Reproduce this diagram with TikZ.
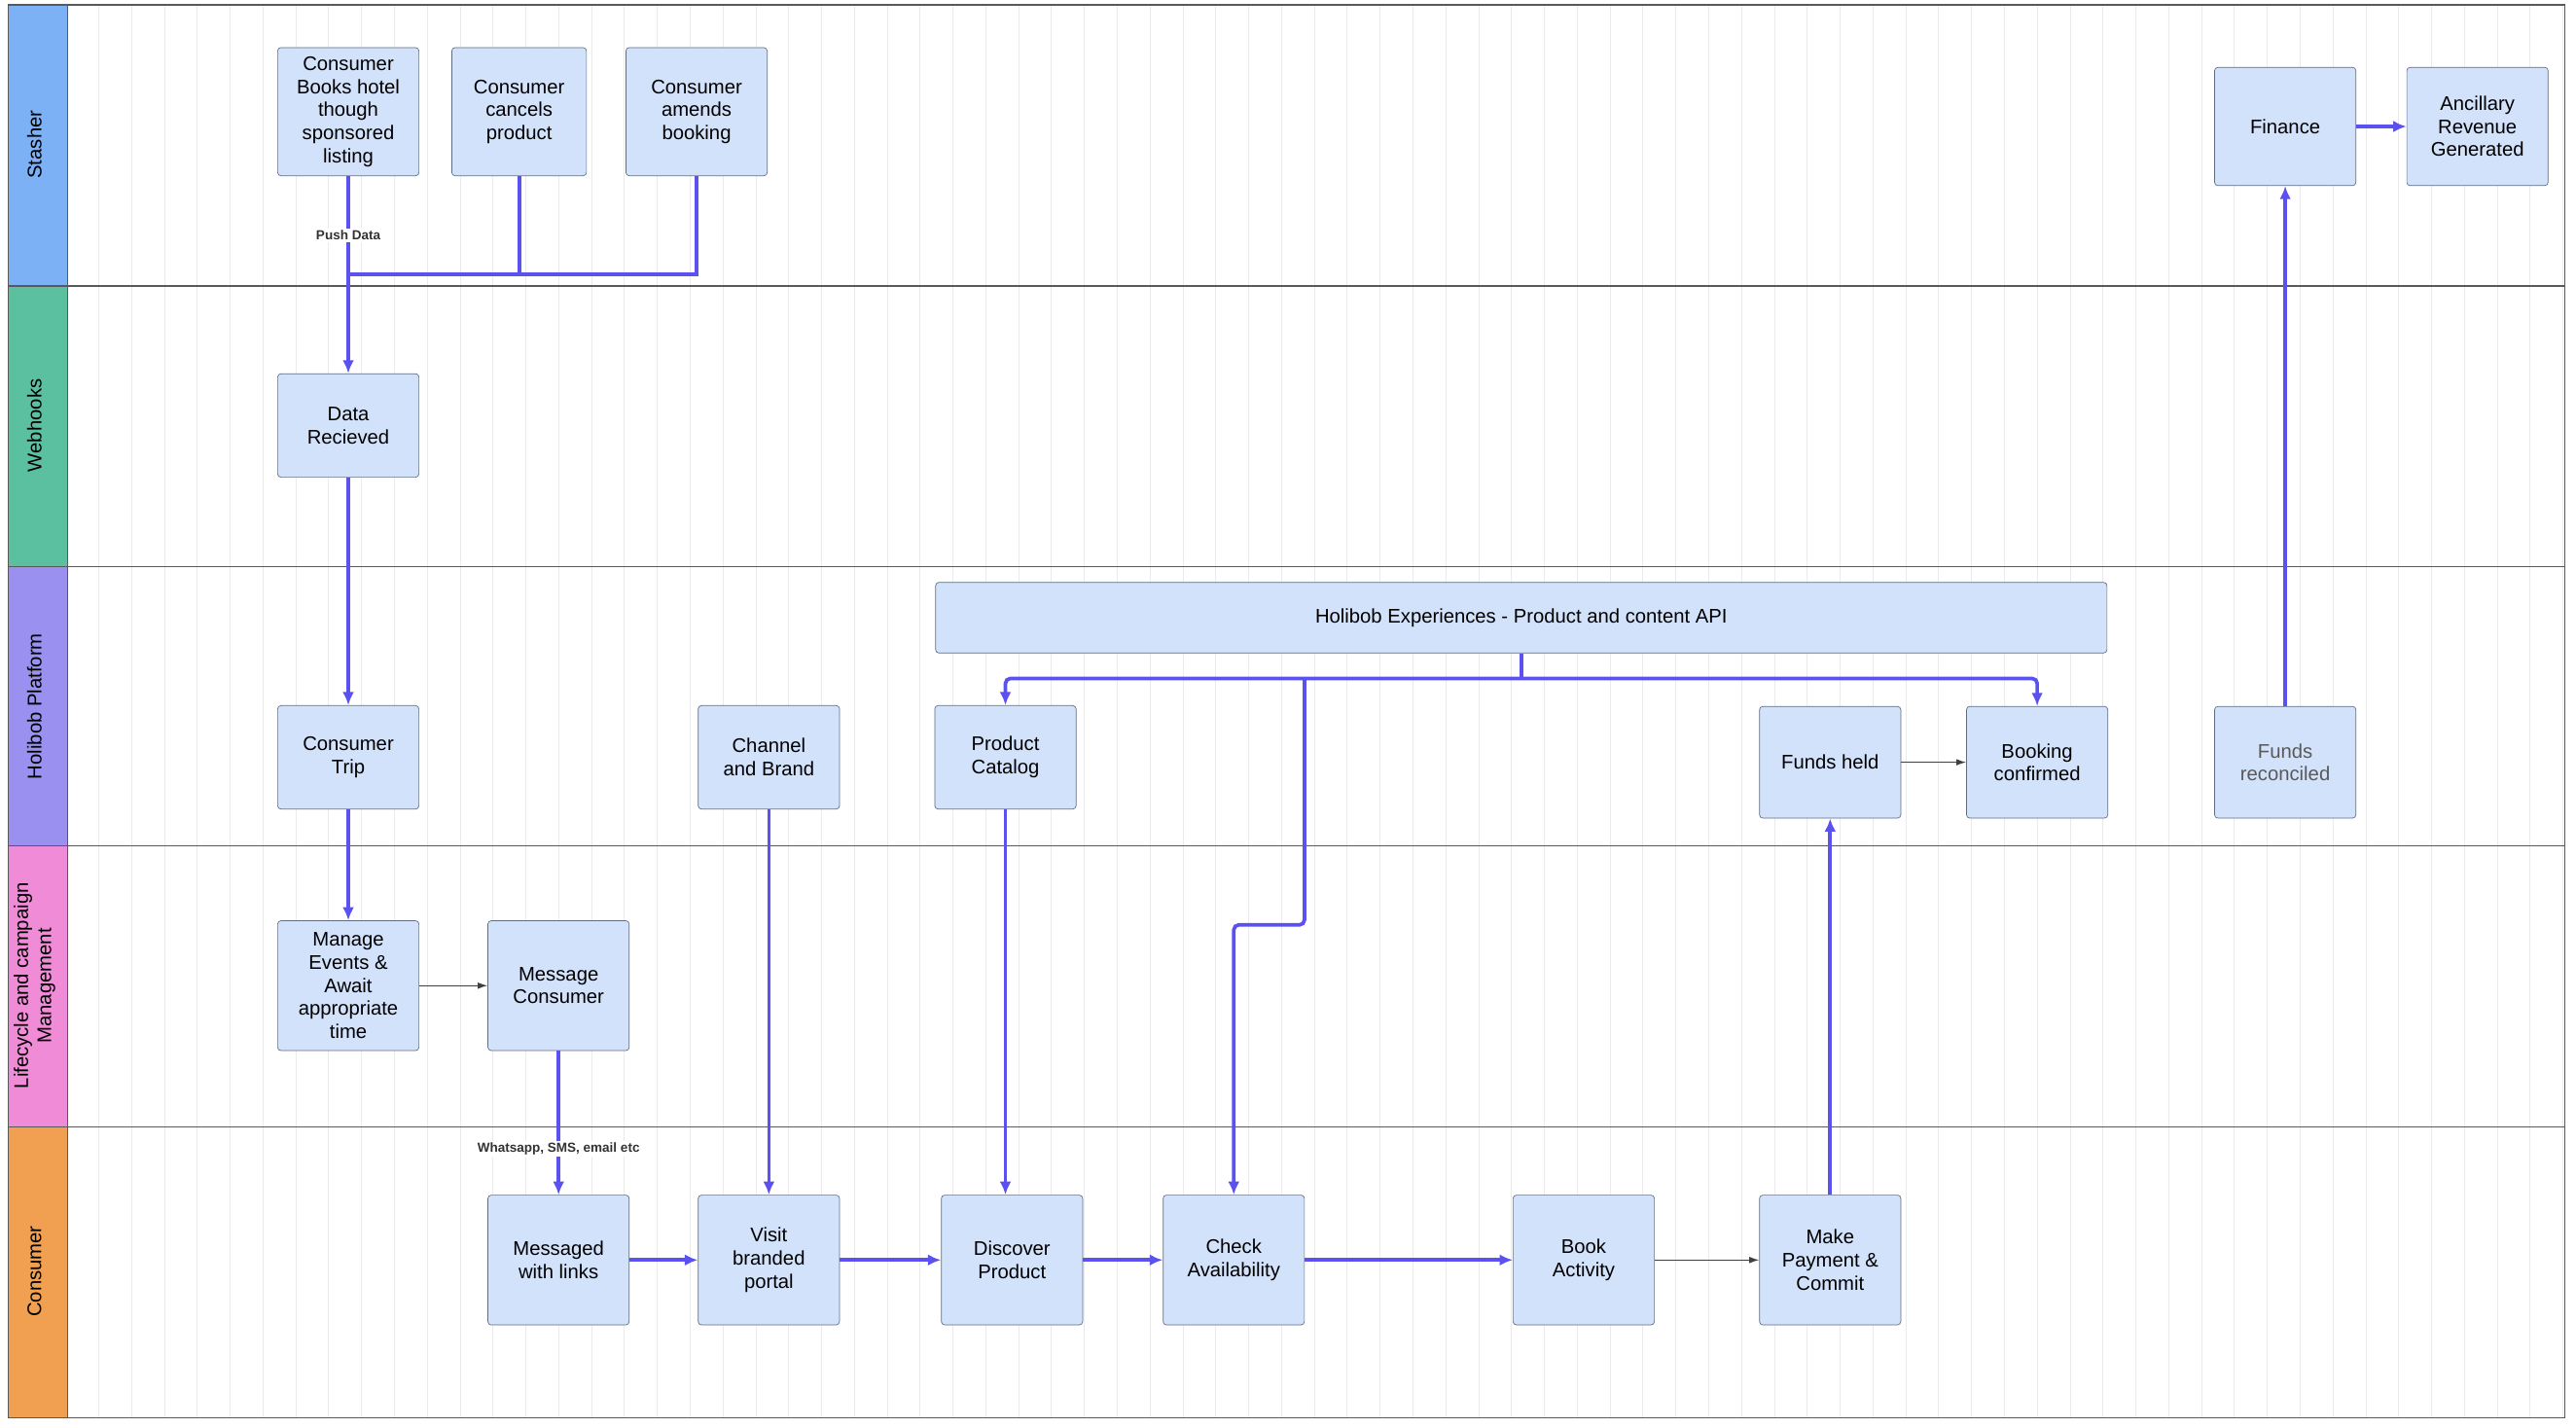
\documentclass[tikz,border=0pt]{standalone}
\usepackage{fontspec}
\setmainfont{Liberation Sans}
\usetikzlibrary{arrows.meta}
\definecolor{boxf}{HTML}{D3E2FB}
\definecolor{boxd}{HTML}{5F6B80}
\definecolor{flow}{HTML}{5B50F0}
\definecolor{c1}{HTML}{7DB1F5}
\definecolor{c2}{HTML}{5BC0A0}
\definecolor{c3}{HTML}{9990F0}
\definecolor{c4}{HTML}{F08BD8}
\definecolor{c5}{HTML}{F0A050}
\begin{document}
\begin{tikzpicture}[x=1pt,y=-1pt,
 box/.style={draw=boxd,fill=boxf,rounded corners=2pt,align=center,font=\fontsize{12}{14}\selectfont,minimum width=86pt,minimum height=#1,inner sep=2pt},
 box/.default=63pt,
 fl/.style={draw=flow,line width=2.2pt,-{Latex[length=8pt,width=7pt]}},
 fln/.style={draw=flow,line width=2.2pt},
 thin/.style={draw=black!75,line width=0.7pt,-{Latex[length=6pt,width=4pt]}},
 lane/.style={font=\fontsize{12}{14}\selectfont,rotate=90,align=center},
 lbl/.style={font=\bfseries\fontsize{8}{10}\selectfont,text=black!80,fill=white,inner sep=1pt}]
\useasboundingbox (0,0) rectangle (1568,869);
\fill[white] (0,0) rectangle (1568,869);
\draw[black!8,step=20] (41,3) grid (1561,863);
% lanes
\fill[c1] (5,3) rectangle (41,174);
\fill[c2] (5,174) rectangle (41,345);
\fill[c3] (5,345) rectangle (41,515);
\fill[c4] (5,515) rectangle (41,686);
\fill[c5] (5,686) rectangle (41,863);
\foreach \y in {174,345,515,686} \draw[black!65,line width=0.8pt] (5,\y) -- (1561,\y);
\draw[black!65,line width=0.8pt] (5,3) rectangle (1561,863);
\draw[black!65,line width=0.8pt] (41,3) -- (41,863);
\node[lane] (l1) at (21,88) {Stasher};
\node[lane] (l2) at (21,259) {Webhooks};
\node[lane] (l3) at (21,430) {Holibob Platform};
\node[lane] (l4) at (21,600) {Lifecycle and campaign\\Management};
\node[lane] (l5) at (21,774) {Consumer};
% nodes
\node[box=78pt] (cb) at (212,68) {Consumer\\Books hotel\\though\\sponsored\\listing};
\node[box=78pt,minimum width=82pt] (cc) at (316,68) {Consumer\\cancels\\product};
\node[box=78pt] (ca) at (424,68) {Consumer\\amends\\booking};
\node[box=72pt] (fin) at (1391,77) {Finance};
\node[box=72pt] (anc) at (1508,77) {Ancillary\\Revenue\\Generated};
\node[box] (dr) at (212,259) {Data\\Recieved};
\node[box=43pt,minimum width=713pt] (api) at (926,376) {Holibob Experiences - Product and content API};
\node[box] (ct) at (212,461) {Consumer\\Trip};
\node[box] (chb) at (468,461) {Channel\\and Brand};
\node[box] (pc) at (612,461) {Product\\Catalog};
\node[box=68pt] (fh) at (1114,464) {Funds held};
\node[box=68pt] (bc) at (1240,464) {Booking\\confirmed};
\node[box=68pt,text=black!65] (fr) at (1391,464) {Funds\\reconciled};
\node[box=79pt] (me) at (212,600) {Manage\\Events \&\\Await\\appropriate\\time};
\node[box=79pt] (mc) at (340,600) {Message\\Consumer};
\node[box=79pt] (ml) at (340,767) {Messaged\\with links};
\node[box=79pt] (vb) at (468,767) {Visit\\branded\\portal};
\node[box=79pt] (dp) at (616,767) {Discover\\Product};
\node[box=79pt] (chk) at (751,767) {Check\\Availability};
\node[box=79pt] (ba) at (964,767) {Book\\Activity};
\node[box=79pt] (mp) at (1114,767) {Make\\Payment \&\\Commit};
\coordinate (j) at (212,167);
\coordinate (ja) at (926,413);
% connectors
\draw[fln] (cc.south) |- (j);
\draw[fln] (ca.south) |- (j);
\draw[fl] (cb.south) -- (dr.north) node[lbl,pos=0.3] {Push Data};
\draw[fl] (dr) -- (ct);
\draw[fl] (ct) -- (me);
\draw[thin] (me) -- (mc);
\draw[fl] (mc) -- (ml) node[lbl,pos=0.68] {Whatsapp, SMS, email etc};
\draw[fl] (ml) -- (vb);
\draw[fl] (vb) -- (dp);
\draw[fl] (dp) -- (chk);
\draw[fl] (chk) -- (ba);
\draw[thin] (ba) -- (mp);
\draw[fl] (mp) -- (fh);
\draw[thin] (fh) -- (bc);
\draw[fl] (chb) -- (vb.north -| chb);
\draw[fl] (pc) -- (pc |- dp.north);
\draw[fln] (api.south) -- (ja);
\draw[fl,rounded corners=3pt] (ja) -| (pc.north);
\draw[fl,rounded corners=3pt] (ja) -| (bc.north);
\draw[fl,rounded corners=3pt] (794,413) -- (794,563) -- (751,563) -- (chk.north);
\draw[fl] (fr) -- (fin);
\draw[fl] (fin) -- (anc);
\end{tikzpicture}
\end{document}
